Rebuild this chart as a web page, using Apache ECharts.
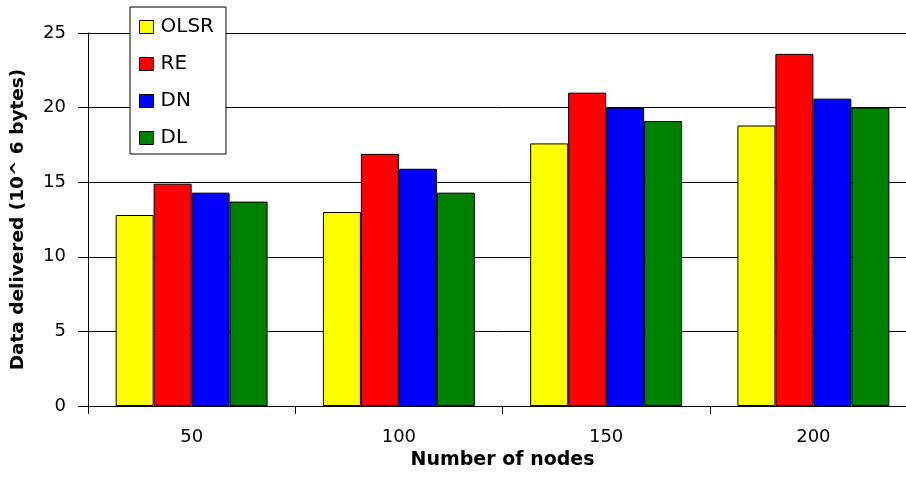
<!DOCTYPE html>
<html><head><meta charset="utf-8">
<script src="https://cdn.jsdelivr.net/npm/echarts@6/dist/echarts.min.js"></script>
<style>html,body{margin:0;padding:0;background:#fff}#c{width:906px;height:477px}</style>
</head><body><div id="c"></div>
<script>
const categories = ['50', '100', '150', '200'];
const olsr = [12.8, 13.0, 17.6, 18.8];
const re = [14.9, 16.9, 21.0, 23.6];
const dn = [14.3, 15.9, 20.0, 20.6];
const dl = [13.7, 14.3, 19.1, 20.0];
const yTicks = [0, 5, 10, 15, 20, 25];

const font = 'DejaVu Sans, sans-serif';
function bar(name, data, color) {
  return { name, type: 'bar', data, barGap: '0%', barCategoryGap: '26.7%',
    itemStyle: { color, borderColor: '#000', borderWidth: 1 } };
}
const chart = echarts.init(document.getElementById('c'));
chart.setOption({
  animation: false,
  backgroundColor: '#fff',
  grid: { left: 88, top: 33, width: 829, height: 373, containLabel: false, outerBoundsMode: 'none' },
  legend: {
    orient: 'vertical', left: 130, top: 7,
    data: ['OLSR', 'RE', 'DN', 'DL'],
    backgroundColor: '#fff', borderColor: '#000', borderWidth: 1,
    padding: [10, 12, 6, 9], itemGap: 17, itemWidth: 14, itemHeight: 13,
    icon: 'rect', z: 10,
    textStyle: { fontFamily: font, fontSize: 20, color: '#000', padding: [0, 0, 0, 2] },
    itemStyle: { borderColor: '#000', borderWidth: 1 }
  },
  xAxis: {
    type: 'category', data: categories,
    name: 'Number of nodes', nameLocation: 'middle', nameGap: 37,
    nameTextStyle: { fontFamily: font, fontWeight: 'bold', fontSize: 19, color: '#000' },
    axisLine: { lineStyle: { color: '#000', width: 1 } },
    axisTick: { show: true, length: 8, lineStyle: { color: '#000' } },
    axisLabel: { fontFamily: font, fontSize: 18, color: '#000', margin: 22 }
  },
  yAxis: {
    type: 'value', min: 0, max: 25, interval: 5,
    name: 'Data delivered (10^ 6 bytes)', nameLocation: 'middle', nameGap: 60,
    nameTextStyle: { fontFamily: font, fontWeight: 'bold', fontSize: 18.5, color: '#000' },
    axisLine: { show: true, lineStyle: { color: '#000', width: 1 } },
    axisTick: { show: true, length: 10, lineStyle: { color: '#000' } },
    axisLabel: { fontFamily: font, fontSize: 18, color: '#000', margin: 22,
      formatter: v => yTicks.includes(v) ? String(v) : '' },
    splitLine: { show: true, lineStyle: { color: '#000', width: 1 } }
  },
  series: [
    bar('OLSR', olsr, '#ffff00'),
    bar('RE', re, '#ff0000'),
    bar('DN', dn, '#0000ff'),
    bar('DL', dl, '#008000')
  ]
});
</script></body></html>
